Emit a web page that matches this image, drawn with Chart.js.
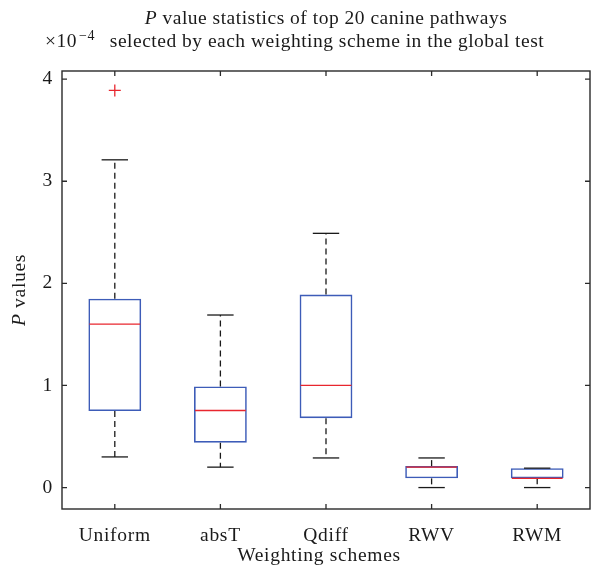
<!DOCTYPE html>
<html><head><meta charset="utf-8">
<script src="https://cdn.jsdelivr.net/npm/chart.js@4/dist/chart.umd.min.js"></script>
<style>html,body{margin:0;padding:0;background:#fff;overflow:hidden}#wrap{width:592px;height:578px;position:relative}</style>
</head><body><div id="wrap"><canvas id="c"></canvas></div>
<script>
// ---- data (values in units of 1e-4) ----
const categories = ['Uniform', 'absT', 'Qdiff', 'RWV', 'RWM'];
const whiskerLow  = [0.30, 0.20, 0.29, 0.00, 0.00];
const q1          = [0.75, 0.44, 0.68, 0.09, 0.09];
const median      = [1.60, 0.755, 1.00, 0.20, 0.09];
const q3          = [1.85, 0.99, 1.89, 0.21, 0.19];
const whiskerHigh = [3.21, 1.69, 2.49, 0.29, 0.19];
const outlierCats = ['Uniform'];
const outlierVals = [3.89];
const yTicks = [0, 1, 2, 3, 4];
const yMin = -0.21, yMax = 4.08;
const titleLine1 = ['P', ' value statistics of top 20 canine pathways'];
const titleLine2 = 'selected by each weighting scheme in the global test';
const exponentBase = '×10';
const exponentPower = '−4';
const xTitle = 'Weighting schemes';
const yTitle = ['P', ' values'];

const FONT = '"Liberation Serif", "Times New Roman", serif';
const FS = 19.5;
const LS = '0.7px';
const LS_TITLE = '0.5px';
const BLUE = '#3d5cb8', RED = '#e8262e', INK = '#1a1a1a';

function drawMixed(ctx, parts, x, y, align) {
  ctx.font = 'italic ' + FS + 'px ' + FONT;
  const w0 = ctx.measureText(parts[0]).width;
  ctx.font = FS + 'px ' + FONT;
  const w1 = ctx.measureText(parts[1]).width;
  let sx = align === 'center' ? x - (w0 + w1) / 2 : x;
  ctx.textAlign = 'left';
  ctx.font = 'italic ' + FS + 'px ' + FONT;
  ctx.fillText(parts[0], sx, y);
  ctx.font = FS + 'px ' + FONT;
  ctx.fillText(parts[1], sx + w0, y);
}

const boxPlugin = {
  id: 'boxParts',
  beforeDraw(chart) { chart.ctx.letterSpacing = LS; },
  afterDatasetsDraw(chart) {
    const ctx = chart.ctx, xs = chart.scales.x, ys = chart.scales.y;
    ctx.save();
    categories.forEach((c, i) => {
      const xc = xs.getPixelForValue(i);
      const capL = xs.getPixelForValue(i - 0.125), capR = xs.getPixelForValue(i + 0.125);
      const boxL = xs.getPixelForValue(i - 0.25), boxR = xs.getPixelForValue(i + 0.25);
      ctx.strokeStyle = INK; ctx.lineWidth = 1.3; ctx.setLineDash([6, 4]);
      if (whiskerHigh[i] > q3[i]) {
        ctx.beginPath(); ctx.moveTo(xc, ys.getPixelForValue(q3[i])); ctx.lineTo(xc, ys.getPixelForValue(whiskerHigh[i])); ctx.stroke();
      }
      if (whiskerLow[i] < q1[i]) {
        ctx.beginPath(); ctx.moveTo(xc, ys.getPixelForValue(q1[i])); ctx.lineTo(xc, ys.getPixelForValue(whiskerLow[i])); ctx.stroke();
      }
      ctx.setLineDash([]);
      [whiskerHigh[i], whiskerLow[i]].forEach(v => {
        const yp = ys.getPixelForValue(v);
        ctx.beginPath(); ctx.moveTo(capL, yp); ctx.lineTo(capR, yp); ctx.stroke();
      });
      ctx.strokeStyle = RED; ctx.lineWidth = 1.3;
      const ym = ys.getPixelForValue(median[i]);
      ctx.beginPath(); ctx.moveTo(boxL + 1, ym); ctx.lineTo(boxR - 1, ym); ctx.stroke();
    });
    ctx.restore();
  },
  afterDraw(chart) {
    const ctx = chart.ctx, a = chart.chartArea, xs = chart.scales.x, ys = chart.scales.y;
    ctx.save();
    ctx.letterSpacing = '0px';
    ctx.strokeStyle = '#2a2a2a'; ctx.lineWidth = 1.4;
    ctx.strokeRect(a.left, a.top, a.right - a.left, a.bottom - a.top);
    ctx.lineWidth = 1.3;
    ctx.beginPath();
    yTicks.forEach(v => {
      const yp = ys.getPixelForValue(v);
      ctx.moveTo(a.left, yp); ctx.lineTo(a.left + 5, yp);
      ctx.moveTo(a.right, yp); ctx.lineTo(a.right - 5, yp);
    });
    categories.forEach((c, i) => {
      const xp = xs.getPixelForValue(i);
      ctx.moveTo(xp, a.bottom); ctx.lineTo(xp, a.bottom - 5);
      ctx.moveTo(xp, a.top); ctx.lineTo(xp, a.top + 5);
    });
    ctx.stroke();
    ctx.letterSpacing = LS_TITLE;
    ctx.fillStyle = INK; ctx.textBaseline = 'alphabetic';
    const cx = (a.left + a.right) / 2;
    drawMixed(ctx, titleLine1, cx, 24, 'center');
    ctx.font = FS + 'px ' + FONT; ctx.textAlign = 'center';
    ctx.fillText(titleLine2, cx + 1, 47);
    ctx.textAlign = 'left';
    ctx.font = FS + 'px ' + FONT;
    ctx.fillText(exponentBase, 45, 47);
    const wb = ctx.measureText(exponentBase).width;
    ctx.font = '14px ' + FONT;
    ctx.fillText(exponentPower, 45 + wb + 2, 39.5);
    ctx.letterSpacing = LS;
    ctx.font = FS + 'px ' + FONT; ctx.textAlign = 'center';
    ctx.fillText(xTitle, cx - 7, 561);
    ctx.save();
    ctx.translate(25, (a.top + a.bottom) / 2);
    ctx.rotate(-Math.PI / 2);
    drawMixed(ctx, yTitle, 0, 0, 'center');
    ctx.restore();
    ctx.restore();
  }
};

new Chart(document.getElementById('c'), {
  type: 'bar',
  data: {
    labels: categories,
    datasets: [{
      label: 'IQR',
      data: categories.map((c, i) => [q1[i], q3[i]]),
      backgroundColor: 'rgba(0,0,0,0)',
      borderColor: BLUE,
      borderWidth: 1.6,
      borderSkipped: false,
      barPercentage: 0.5,
      categoryPercentage: 1.0,
      grouped: false
    }, {
      type: 'line',
      label: 'Outliers',
      data: outlierCats.map((c, i) => ({ x: c, y: outlierVals[i] })),
      showLine: false,
      pointStyle: 'cross',
      pointRadius: 6,
      pointBorderWidth: 1.3,
      borderColor: RED,
      backgroundColor: RED
    }]
  },
  plugins: [boxPlugin],
  options: {
    responsive: true,
    maintainAspectRatio: false,
    animation: false,
    events: [],
    layout: { autoPadding: false, padding: { top: 71, right: 2, left: 0, bottom: 0 } },
    plugins: { legend: { display: false }, tooltip: { enabled: false }, title: { display: false } },
    scales: {
      x: {
        type: 'category',
        offset: true,
        grid: { display: false, drawTicks: false },
        border: { display: false },
        ticks: { color: INK, padding: 15, font: { family: FONT, size: FS } },
        afterFit(s) { s.height = 69; s.paddingLeft = 0; s.paddingRight = 0; }
      },
      y: {
        min: yMin, max: yMax,
        grid: { display: false, drawTicks: false },
        border: { display: false },
        afterBuildTicks(s) { s.ticks = yTicks.map(v => ({ value: v })); },
        ticks: { color: INK, padding: 9, font: { family: FONT, size: FS }, callback: v => String(v) },
        afterFit(s) { s.width = 62; s.paddingTop = 0; s.paddingBottom = 0; }
      }
    }
  }
});
</script>
</body></html>
